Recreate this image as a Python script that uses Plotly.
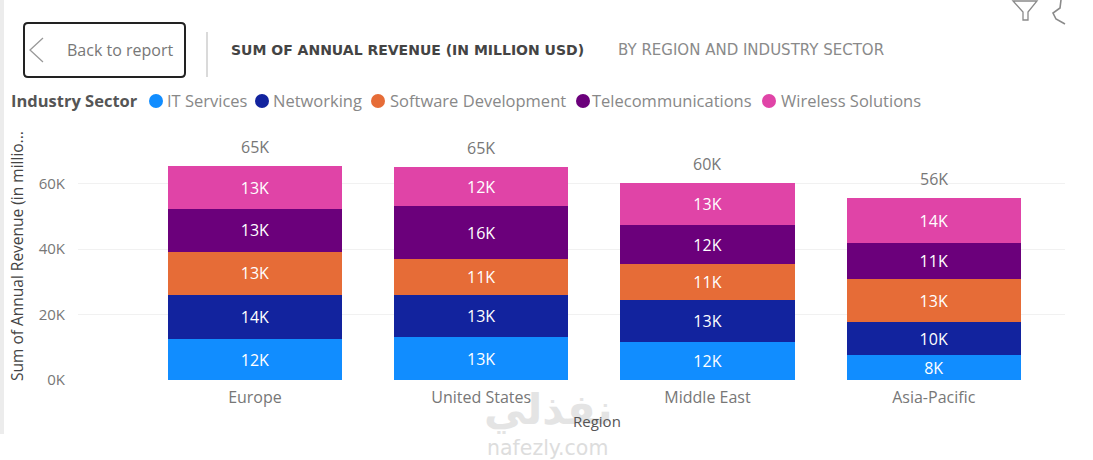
import plotly.graph_objects as go

W, H = 1093, 460

regions = ["Europe", "United States", "Middle East", "Asia-Pacific"]
sectors = ["IT Services", "Networking", "Software Development", "Telecommunications", "Wireless Solutions"]
colors = ["#118DFF", "#12239E", "#E66C37", "#6B007B", "#E044A7"]

it_services = [12500, 13100, 11600, 7600]
networking = [13500, 12800, 12800, 10100]
software_dev = [13200, 11000, 11000, 13100]
telecom = [13100, 16200, 11900, 11000]
wireless = [13100, 11900, 12800, 13800]
totals = [65400, 65000, 60100, 55600]

it_labels = ["12K", "13K", "12K", "8K"]
net_labels = ["14K", "13K", "13K", "10K"]
soft_labels = ["13K", "11K", "11K", "13K"]
tele_labels = ["13K", "16K", "12K", "11K"]
wire_labels = ["13K", "12K", "13K", "14K"]
total_labels = ["65K", "65K", "60K", "56K"]

y_ticks = [0, 20000, 40000, 60000]
y_tick_labels = ["0K", "20K", "40K", "60K"]

# left edge of each legend dot / text, in page pixels
legend_dot_x = [156, 262, 378, 583, 769]
legend_text_x = [166, 272, 389, 591, 780]

FONT = "Open Sans"


def px(x):
    return x / W


def py(y):
    return 1 - y / H


def pts(*coords):
    # page pixels to an svg path in paper coordinates
    return "M " + " L ".join(f"{px(x)} {py(y)}" for x, y in coords)


series = [it_services, networking, software_dev, telecom, wireless]
series_labels = [it_labels, net_labels, soft_labels, tele_labels, wire_labels]

fig = go.Figure()
for name, vals, labs, col in zip(sectors, series, series_labels, colors):
    fig.add_trace(go.Bar(x=regions, y=vals, name=name, marker=dict(color=col, line_width=0),
                         text=labs, textposition="inside", insidetextanchor="middle",
                         textangle=0, constraintext="none", textfont=dict(color="white", size=16, family=FONT),
                         width=0.77, showlegend=False))

r = 4
button = (f"M {px(24 + r)} {py(23)} L {px(185 - r)} {py(23)} Q {px(185)} {py(23)} {px(185)} {py(23 + r)} "
          f"L {px(185)} {py(77 - r)} Q {px(185)} {py(77)} {px(185 - r)} {py(77)} "
          f"L {px(24 + r)} {py(77)} Q {px(24)} {py(77)} {px(24)} {py(77 - r)} "
          f"L {px(24)} {py(23 + r)} Q {px(24)} {py(23)} {px(24 + r)} {py(23)} Z")

shapes = [
    dict(type="path", xref="paper", yref="paper", path=button, line=dict(color="#222222", width=2), fillcolor="white"),
    dict(type="line", xref="paper", yref="paper", x0=px(207), x1=px(207), y0=py(77), y1=py(32),
         line=dict(color="#b5b5b5", width=1)),
    # back chevron
    dict(type="path", xref="paper", yref="paper", path=pts((43, 38), (30, 50), (43, 62)),
         line=dict(color="#999999", width=1.3)),
    # filter icon
    dict(type="path", xref="paper", yref="paper",
         path=pts((1013, 1), (1037, 1), (1028, 12), (1028, 20), (1023, 20), (1023, 12)) + " Z",
         line=dict(color="#8a8a8a", width=1.3)),
    # cut off icon on the right
    dict(type="path", xref="paper", yref="paper", path=pts((1061, 0), (1060, 8), (1053, 13), (1056, 19), (1065, 24)),
         line=dict(color="#8a8a8a", width=1.6)),
    # grey strip at the left of the page
    dict(type="rect", xref="paper", yref="paper", x0=0, x1=px(4), y0=py(434), y1=1,
         line_width=0, fillcolor="#ececec"),
]
for dx, col in zip(legend_dot_x, colors):
    shapes.append(dict(type="circle", xref="paper", yref="paper", x0=px(dx - 7), x1=px(dx + 7),
                       y0=py(108), y1=py(94), line_width=0, fillcolor=col))

annotations = [
    dict(x=px(66), y=py(50), text="Back to report", font=dict(size=16, color="#777777", family=FONT), xanchor="left"),
    dict(x=px(230), y=py(50), text="<b>SUM OF ANNUAL REVENUE (IN MILLION USD)</b>",
         font=dict(size=14, color="#444444", family="DejaVu Sans"), xanchor="left"),
    dict(x=px(617), y=py(50), text="BY REGION AND INDUSTRY SECTOR",
         font=dict(size=15, color="#8a8a8a", family="DejaVu Sans"), xanchor="left"),
    dict(x=px(10), y=py(101), text="<b>Industry Sector</b>", font=dict(size=16.5, color="#555555", family=FONT), xanchor="left"),
    # watermark
    dict(x=px(548), y=py(410), text="<b>نفذلي</b>", font=dict(size=42, color="#e4e4e4", family="DejaVu Sans"), xanchor="center"),
    dict(x=px(547), y=py(448), text="nafezly.com", font=dict(size=20.5, color="#dddddd", family="DejaVu Sans"), xanchor="center"),
    # axis titles
    dict(x=px(597), y=py(421), text="Region", font=dict(size=15, color="#555555", family=FONT), xanchor="center"),
    dict(x=px(17), y=py(256), text="Sum of Annual Revenue (in millio...", textangle=-90,
         font=dict(size=15.5, color="#444444", family=FONT), xanchor="center"),
]
for name, tx in zip(sectors, legend_text_x):
    annotations.append(dict(x=px(tx), y=py(101), text=name, font=dict(size=16.5, color="#888888", family=FONT), xanchor="left"))
for a in annotations:
    a.update(xref="paper", yref="paper", showarrow=False, yanchor="middle", borderpad=0)

# totals above the stacks
for reg, tot, lab in zip(regions, totals, total_labels):
    annotations.append(dict(x=reg, y=tot, xref="x", yref="y", text=lab, showarrow=False, yshift=19,
                            font=dict(size=16, color="#777777", family=FONT)))

fig.update_layout(
    width=W, height=H, margin=dict(l=0, r=0, t=0, b=0),
    plot_bgcolor="white", paper_bgcolor="white", barmode="stack",
    shapes=shapes, annotations=annotations,
    font=dict(family=FONT),
)
fig.update_xaxes(domain=[px(78), px(1065)], range=[-0.782, 3.58], showline=False, showgrid=False,
                 ticks="", tickfont=dict(size=16, color="#777777"), ticklabelstandoff=6, automargin=False)
fig.update_yaxes(domain=[py(380), py(135)], range=[0, 245 / 3.27 * 1000], tickvals=y_ticks, ticktext=y_tick_labels,
                 gridcolor="#f1f1f1", zeroline=False, ticks="", tickfont=dict(size=15, color="#777777"),
                 ticklabelstandoff=12, automargin=False)

# page has a default 8px body margin, drop it so the figure fills the window
fig.write_html("out.html", config=dict(displayModeBar=False), post_script="document.body.style.margin='0';")
